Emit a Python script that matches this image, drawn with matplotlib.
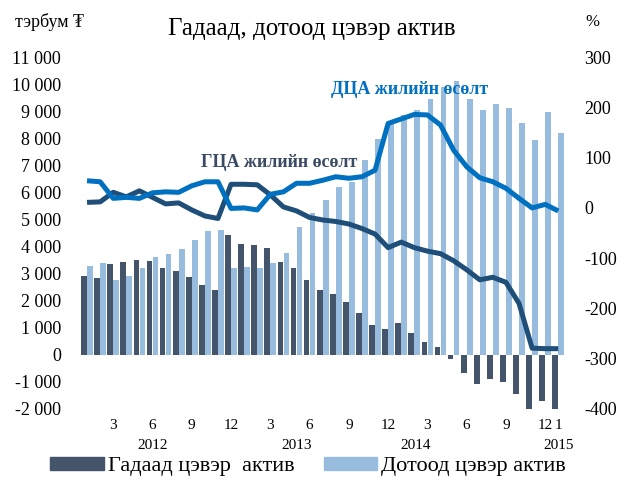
import matplotlib
matplotlib.use('Agg')
import matplotlib.pyplot as plt
from matplotlib.patches import Patch
from matplotlib.ticker import FuncFormatter
import numpy as np

plt.rcParams['font.family'] = ['Liberation Serif', 'DejaVu Serif']

# Jan 2012 - Jan 2015, monthly
gadaad = [2900, 2850, 3370, 3440, 3510, 3460, 3220, 3100, 2860, 2580, 2400, 4420,
          4110, 4060, 3940, 3430, 3210, 2780, 2400, 2260, 1940, 1530, 1110, 940,
          1160, 800, 480, 300, -170, -680, -1070, -910, -990, -1440, -2050, -1720,
          -2100]
dotood = [3270, 3400, 2750, 2920, 3220, 3610, 3740, 3910, 4260, 4580, 4620, 3210,
          3250, 3210, 3380, 3760, 4740, 5250, 5730, 6200, 6390, 7210, 7980, 8600,
          8870, 9060, 9470, 9900, 10110, 9440, 9060, 9260, 9130, 8570, 7930, 8960,
          8200]
gca_growth = [11, 12, 31, 22, 34, 21, 8, 10, -4, -16, -21, 47,
              47, 46, 26, 2, -6, -19, -24, -27, -32, -41, -52, -79,
              -68, -79, -86, -91, -105, -123, -143, -138, -148, -190, -279, -280,
              -280]
dca_growth = [54, 52, 19, 21, 19, 30, 32, 31, 44, 52, 52, -1,
              0, -4, 27, 32, 49, 49, 55, 62, 59, 62, 75, 168,
              177, 186, 185, 165, 115, 82, 60, 52, 39, 19, 0, 7,
              -6]

month_ticks = [2, 5, 8, 11, 14, 17, 20, 23, 26, 29, 32, 35, 36]
month_labels = ['3', '6', '9', '12', '3', '6', '9', '12', '3', '6', '9', '12', '1']
years = ['2012', '2013', '2014', '2015']
year_pos = [5.0, 16.0, 25.1, 36.0]

dark_bar = '#44546A'
light_bar = '#97BCDD'
dark_line = '#1F4E79'
blue_line = '#0070C0'

x = np.arange(len(gadaad))

fig = plt.figure(figsize=(6.29, 4.82), dpi=100)
ax = fig.add_axes([0.128, 0.1515, 0.770, 0.730])
ax.bar(x - 0.23, gadaad, width=0.44, color=dark_bar)
ax.bar(x + 0.23, dotood, width=0.44, color=light_bar)
ax.set_xlim(-0.5, len(x) - 0.5)
ax.set_ylim(-2000, 11000)
ax.set_yticks(np.arange(-2000, 11001, 1000))
ax.yaxis.set_major_formatter(FuncFormatter(lambda v, p: f"{v:,.0f}".replace(',', ' ')))
ax.set_xticks(month_ticks, month_labels)
ax.tick_params(axis='y', length=0, labelsize=13, pad=14)
ax.tick_params(axis='x', length=0, labelsize=11, pad=7)
for s in ax.spines.values():
    s.set_visible(False)
for yr, pos in zip(years, year_pos):
    ax.text(pos, -0.085, yr, transform=ax.get_xaxis_transform(),
            ha='center', va='top', fontsize=11)

ax2 = ax.twinx()
ax2.plot(x, gca_growth, color=dark_line, lw=3.6, solid_joinstyle='round', solid_capstyle='butt')
ax2.plot(x, dca_growth, color=blue_line, lw=3.6, solid_joinstyle='round', solid_capstyle='butt')
ax2.set_ylim(-400, 300)
ax2.set_yticks(np.arange(-400, 301, 100))
ax2.yaxis.set_major_formatter(FuncFormatter(lambda v, p: f"{v:.0f}"))
ax2.tick_params(axis='y', length=0, labelsize=13, pad=14)
for s in ax2.spines.values():
    s.set_visible(False)

fig.text(0.496, 0.94, 'Гадаад, дотоод цэвэр актив', ha='center', va='center', fontsize=18)
fig.text(0.079, 0.954, 'тэрбум ₮', ha='center', va='center', fontsize=13)
fig.text(0.941, 0.954, '%', ha='center', va='center', fontsize=12)
fig.text(0.4436, 0.662, 'ГЦА жилийн өсөлт', ha='center', va='center',
         fontsize=13, fontweight='bold', color='#3B4A63')
fig.text(0.652, 0.815, 'ДЦА жилийн өсөлт', ha='center', va='center',
         fontsize=13, fontweight='bold', color=blue_line)

handles = [Patch(color=dark_bar, label='Гадаад цэвэр  актив'),
           Patch(color=light_bar, label='Дотоод цэвэр актив')]
fig.legend(handles=handles, loc='lower center', bbox_to_anchor=(0.49, -0.03), ncol=2,
           frameon=False, fontsize=16, handlelength=2.4, handleheight=0.55,
           handletextpad=0.2, columnspacing=1.3)

fig.savefig('out.png', dpi=100)
